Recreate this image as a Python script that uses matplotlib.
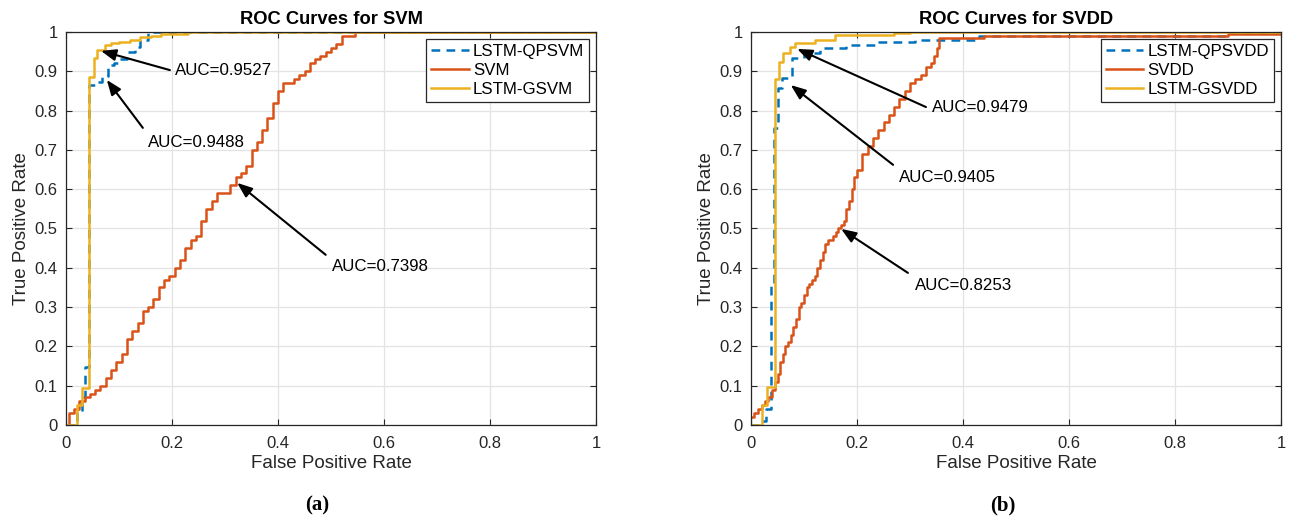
import matplotlib
matplotlib.use("Agg")
import matplotlib.pyplot as plt

plt.rcParams['font.family'] = ['Liberation Sans', 'DejaVu Sans']

BLUE = '#0072BD'
ORANGE = '#D95319'
YELLOW = '#EDB120'

# ---- SVM panel (a) ----
svm_labels = ['LSTM-QPSVM', 'SVM', 'LSTM-GSVM']

qpsvm_fpr = [0, 0.02, 0.03, 0.036, 0.044, 0.06, 0.068, 0.079, 0.09, 0.10, 0.115,
             0.13, 0.14, 0.155, 1.0]
qpsvm_tpr = [0, 0.03, 0.07, 0.148, 0.865, 0.872, 0.888, 0.915, 0.922, 0.932, 0.948,
             0.962, 0.98, 1.0, 1.0]

svm_fpr = [0, 0.005, 0.015, 0.025, 0.035, 0.045, 0.055, 0.065, 0.075, 0.085,
           0.095, 0.105, 0.115, 0.125, 0.135, 0.145, 0.155, 0.165, 0.175, 0.185,
           0.195, 0.205, 0.215, 0.225, 0.235, 0.245, 0.255, 0.265, 0.275, 0.285,
           0.295, 0.31, 0.32, 0.33, 0.34, 0.35, 0.36, 0.37, 0.38, 0.39,
           0.40, 0.41, 0.42, 0.43, 0.44, 0.45, 0.46, 0.47, 0.48, 0.49,
           0.50, 0.51, 0.52, 0.53, 0.545, 1.0]
svm_tpr = [0, 0.03, 0.04, 0.06, 0.07, 0.08, 0.09, 0.10, 0.12, 0.14,
           0.16, 0.18, 0.22, 0.24, 0.26, 0.29, 0.30, 0.32, 0.35, 0.37,
           0.38, 0.40, 0.42, 0.45, 0.47, 0.48, 0.52, 0.55, 0.57, 0.59,
           0.59, 0.61, 0.63, 0.64, 0.66, 0.70, 0.72, 0.75, 0.78, 0.82,
           0.85, 0.87, 0.87, 0.88, 0.89, 0.90, 0.92, 0.93, 0.94, 0.95,
           0.96, 0.97, 0.99, 0.99, 1.0, 1.0]

gsvm_fpr = [0, 0.02, 0.03, 0.0435, 0.052, 0.059, 0.074, 0.085, 0.10, 0.12,
            0.14, 0.16, 0.18, 0.23, 1.0]
gsvm_tpr = [0, 0.05, 0.094, 0.886, 0.933, 0.954, 0.968, 0.971, 0.975, 0.98,
            0.986, 0.99, 0.995, 1.0, 1.0]

svm_auc = ['AUC=0.9527', 'AUC=0.9488', 'AUC=0.7398']
svm_arrow_head = [(0.066, 0.952), (0.077, 0.878), (0.323, 0.616)]
svm_arrow_tail = [(0.196, 0.903), (0.145, 0.756), (0.49, 0.433)]
svm_text_pos = [(0.206, 0.901), (0.155, 0.72), (0.502, 0.402)]

# ---- SVDD panel (b) ----
svdd_labels = ['LSTM-QPSVDD', 'SVDD', 'LSTM-GSVDD']

qpsvdd_fpr = [0, 0.015, 0.029, 0.037, 0.044, 0.05, 0.058, 0.077, 0.10, 0.13,
              0.18, 0.24, 0.31, 0.43, 0.9, 1.0]
qpsvdd_tpr = [0, 0.01, 0.04, 0.36, 0.755, 0.857, 0.882, 0.935, 0.946, 0.958,
              0.967, 0.975, 0.98, 0.99, 1.0, 1.0]

svdd_fpr = [0, 0.005, 0.013, 0.02, 0.027, 0.032, 0.04, 0.045, 0.05, 0.055,
            0.06, 0.065, 0.07, 0.075, 0.08, 0.085, 0.09, 0.095, 0.10, 0.105,
            0.11, 0.115, 0.12, 0.125, 0.13, 0.135, 0.14, 0.145, 0.15, 0.155,
            0.16, 0.165, 0.17, 0.175, 0.18, 0.185, 0.19, 0.195, 0.20, 0.21,
            0.22, 0.23, 0.24, 0.25, 0.26, 0.27, 0.28, 0.29, 0.30, 0.31,
            0.32, 0.33, 0.34, 0.345, 0.35, 0.355, 0.44, 0.9, 1.0]
svdd_tpr = [0.02, 0.03, 0.04, 0.05, 0.06, 0.07, 0.09, 0.11, 0.13, 0.16,
            0.18, 0.20, 0.21, 0.23, 0.25, 0.27, 0.30, 0.31, 0.33, 0.35,
            0.36, 0.37, 0.38, 0.40, 0.42, 0.44, 0.46, 0.47, 0.47, 0.48,
            0.49, 0.50, 0.51, 0.52, 0.55, 0.57, 0.60, 0.63, 0.65, 0.69,
            0.71, 0.73, 0.75, 0.77, 0.79, 0.81, 0.83, 0.85, 0.87, 0.88,
            0.89, 0.91, 0.92, 0.94, 0.96, 0.985, 0.99, 0.995, 1.0]

gsvdd_fpr = [0, 0.02, 0.03, 0.045, 0.052, 0.061, 0.074, 0.083, 0.12, 0.158,
             0.27, 0.3, 1.0]
gsvdd_tpr = [0, 0.05, 0.097, 0.88, 0.924, 0.946, 0.963, 0.971, 0.98, 0.992,
             0.998, 1.0, 1.0]

svdd_auc = ['AUC=0.9479', 'AUC=0.9405', 'AUC=0.8253']
svdd_arrow_head = [(0.087, 0.957), (0.075, 0.865), (0.17, 0.499)]
svdd_arrow_tail = [(0.330, 0.809), (0.268, 0.662), (0.296, 0.387)]
svdd_text_pos = [(0.342, 0.807), (0.279, 0.631), (0.309, 0.354)]

x_ticks = [0, 0.2, 0.4, 0.6, 0.8, 1]
x_ticklabels = ['0', '0.2', '0.4', '0.6', '0.8', '1']
y_ticks = [0, 0.1, 0.2, 0.3, 0.4, 0.5, 0.6, 0.7, 0.8, 0.9, 1]
y_ticklabels = ['0', '0.1', '0.2', '0.3', '0.4', '0.5', '0.6', '0.7', '0.8', '0.9', '1']


def draw_panel(ax, title, labels, curves, aucs, heads, tails, texts):
    styles = [(BLUE, '--'), (ORANGE, '-'), (YELLOW, '-')]
    for (fpr, tpr), (col, ls), lab in zip(curves, styles, labels):
        ax.step(fpr, tpr, where='post', color=col, ls=ls, lw=1.8,
                label=lab, dashes=(3.5, 2.5) if ls == '--' else (None, None))
    for txt, head, tail, pos in zip(aucs, heads, tails, texts):
        ax.annotate('', xy=head, xytext=tail,
                    arrowprops=dict(arrowstyle='-|>,head_length=0.9,head_width=0.35',
                                    color='k', lw=1.5, shrinkA=0, shrinkB=0))
        ax.text(pos[0], pos[1], txt, fontsize=12.2, ha='left', va='center')

    ax.set_xlim(0, 1)
    ax.set_ylim(0, 1)
    ax.set_xticks(x_ticks)
    ax.set_xticklabels(x_ticklabels)
    ax.set_yticks(y_ticks)
    ax.set_yticklabels(y_ticklabels)
    ax.tick_params(direction='in', length=4, labelsize=12, colors='#262626',
                   top=True, right=True)
    ax.tick_params(axis='x', pad=8)
    ax.tick_params(axis='y', pad=6)
    ax.grid(True, color='#e3e3e3', lw=0.9)
    ax.set_axisbelow(True)
    for s in ax.spines.values():
        s.set_color('#262626')
        s.set_linewidth(0.9)
    ax.set_xlabel('False Positive Rate', fontsize=13.5, color='#262626', labelpad=3)
    ax.set_ylabel('True Positive Rate', fontsize=13.5, color='#262626', labelpad=3)
    ax.set_title(title, fontsize=13.2, fontweight='bold', pad=6)
    leg = ax.legend(loc='upper right', fontsize=12.2, handlelength=2.2,
                    borderaxespad=0.4, fancybox=False, framealpha=1,
                    edgecolor='#262626', labelspacing=0.25, handletextpad=0.25,
                    borderpad=0.3)
    leg.get_frame().set_linewidth(0.9)


def main():
    fig = plt.figure(figsize=(12.94, 5.21), dpi=100)
    ax1 = fig.add_axes([0.051, 0.1843, 0.4096, 0.7543])
    ax2 = fig.add_axes([0.5804, 0.1843, 0.4096, 0.7543])

    draw_panel(ax1, 'ROC Curves for SVM', svm_labels,
               [(qpsvm_fpr, qpsvm_tpr), (svm_fpr, svm_tpr), (gsvm_fpr, gsvm_tpr)],
               svm_auc, svm_arrow_head, svm_arrow_tail, svm_text_pos)
    draw_panel(ax2, 'ROC Curves for SVDD', svdd_labels,
               [(qpsvdd_fpr, qpsvdd_tpr), (svdd_fpr, svdd_tpr), (gsvdd_fpr, gsvdd_tpr)],
               svdd_auc, svdd_arrow_head, svdd_arrow_tail, svdd_text_pos)

    fig.text(317 / 1294, 1 - 505 / 521, '(a)', fontsize=15, fontweight='bold',
             family='Liberation Serif', ha='center', va='center')
    fig.text(1003 / 1294, 1 - 505 / 521, '(b)', fontsize=15, fontweight='bold',
             family='Liberation Serif', ha='center', va='center')

    fig.savefig('out.png', dpi=100)


if __name__ == "__main__":
    main()
